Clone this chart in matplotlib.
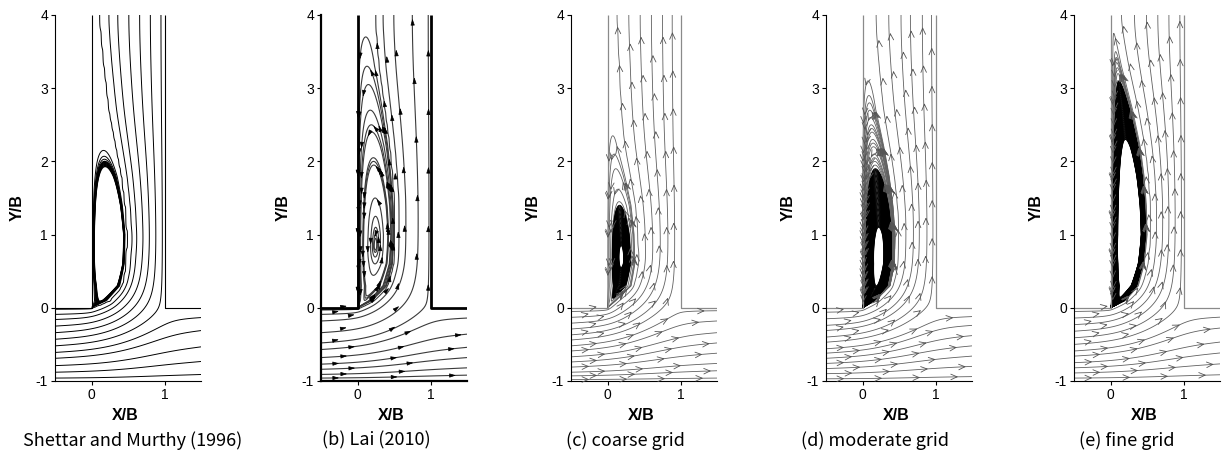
import numpy as np
import matplotlib
matplotlib.use("Agg")
import matplotlib.pyplot as plt

plt.rcParams['font.family'] = ['Liberation Sans', 'DejaVu Sans']
plt.rcParams['axes.unicode_minus'] = False

# ---------------- values ----------------
captions = ['Shettar and Murthy (1996)', '(b) Lai (2010)', '(c) coarse grid',
            '(d) moderate grid', '(e) fine grid']

# share of the inlet flow that leaves through the main-channel outlet
outlet_split = [0.45, 0.5, 0.5, 0.5, 0.47]

# heights (y/B) where the drawn streamlines enter at x/B = -0.5
inlet_a = [-0.02, -0.09, -0.16, -0.25, -0.34, -0.43, -0.52, -0.61, -0.69, -0.79, -0.88, -0.96]
inlet_b = [-0.03, -0.09, -0.18, -0.34, -0.48, -0.57, -0.68, -0.77, -0.84, -0.91, -0.96]
inlet_c = [-0.05, -0.13, -0.21, -0.29, -0.37, -0.44, -0.52, -0.59, -0.67, -0.74, -0.81, -0.88, -0.93, -0.98]
inlet_d = [-0.06, -0.15, -0.24, -0.31, -0.40, -0.47, -0.56, -0.62, -0.69, -0.76, -0.83, -0.90, -0.97]
inlet_e = [-0.05, -0.14, -0.23, -0.32, -0.41, -0.50, -0.59, -0.66, -0.75, -0.82, -0.89, -0.96]

# x/B of the separation bubble / wake edge at these y/B stations
edge_y = [0.0, 0.1, 0.3, 0.6, 1.0, 1.4, 1.8, 2.2, 2.7, 3.3, 4.0]
edge_a = [0.0, 0.25, 0.42, 0.47, 0.48, 0.45, 0.40, 0.32, 0.22, 0.15, 0.08]
edge_b = [0.0, 0.20, 0.40, 0.48, 0.50, 0.49, 0.46, 0.42, 0.35, 0.26, 0.20]
edge_c = [0.0, 0.12, 0.33, 0.38, 0.37, 0.33, 0.25, 0.16, 0.11, 0.08, 0.04]
edge_d = [0.0, 0.18, 0.38, 0.44, 0.45, 0.42, 0.37, 0.30, 0.20, 0.13, 0.07]
edge_e = [0.0, 0.22, 0.40, 0.48, 0.52, 0.51, 0.48, 0.43, 0.33, 0.18, 0.04]

# eddy centre height and vertical reach (below / above) of the recirculation
eddy_yc = [0.80, 0.85, 0.68, 0.70, 0.90]
eddy_down = [0.63, 0.90, 0.75, 1.23, 1.08]
eddy_up = [1.00, 1.44, 0.98, 1.23, 2.00]

# heights of the tops of the single recirculation loops
loops_a = [2.15, 2.07, 2.03]
loops_b = [3.7, 3.3, 3.05, 2.7, 2.5, 2.4, 2.05, 2.0, 1.95, 1.5, 1.25, 1.1, 1.0, 0.95]
loops_c = [2.35, 2.1, 1.9, 1.62, 1.45]
loops_d = [3.1, 2.9, 2.8, 2.7, 2.6, 2.5, 2.45, 2.4, 2.3, 2.25, 2.2, 2.1, 2.05, 2.0, 1.95]
loops_e = [3.75, 3.5, 3.42, 3.35, 3.28, 3.2]
# dense bundle of loops: (lowest top, highest top, count)
dense = [(1.93, 2.0, 6), None, (0.85, 1.4, 50), (1.1, 1.9, 70), (2.3, 3.1, 90)]

inlets = [inlet_a, inlet_b, inlet_c, inlet_d, inlet_e]
edges = [edge_a, edge_b, edge_c, edge_d, edge_e]
loops = [loops_a, loops_b, loops_c, loops_d, loops_e]

# ---------------- styles / layout ----------------
line_color = ['black', '#3a3a3a', '#606060', '#606060', '#606060']
line_width = [0.7, 0.8, 0.6, 0.6, 0.6]
wall_color = ['black', 'black', '#8a8a8a', '#8a8a8a', '#8a8a8a']
wall_width = [0.8, 2.0, 0.9, 0.9, 0.9]
arrow_step = [None, 0.8, 0.52, 0.52, 0.52]
panel_left = [55, 321, 571, 826, 1074]
caption_x = [242, 376, 625, 875, 1127]

W, Hpx = 1228, 461

# ---------------- stream function of the through-flow ----------------
H = 0.025
xs = np.arange(-0.5, 1.5 + H / 2, H)
ys = np.arange(-1.0, 4.0 + H / 2, H)
X, Y = np.meshgrid(xs, ys)
J, I = np.indices(X.shape)
tol = H / 4


def solve_psi(edge, split, n_iter=1200, w=1.9):
    L = np.interp(Y, edge_y, edge)
    main = Y <= tol
    branch = (X >= -tol) & (X <= 1 + tol) & (Y >= -tol)
    inside = main | branch
    psi = np.where(Y < 0, (Y + 1) * (1 - (1 - split) * np.clip(X, 0, 1)),
                   1 - (1 - split) * np.clip(X, 0, 1))
    fixed = ~inside
    psi[fixed] = 0.0

    def setb(m, val):
        fixed[m] = True
        psi[m] = val[m]

    setb(inside & (Y < -1 + tol), np.zeros_like(X))
    setb(main & (X < -0.5 + tol), Y + 1)
    setb(main & (X > 1.5 - tol), split * (Y + 1))
    left = ((np.abs(Y) < tol) & (X <= tol)) | ((np.abs(X) < tol) & (Y >= -tol))
    setb(left, np.ones_like(X))
    right = ((np.abs(Y) < tol) & (X >= 1 - tol)) | ((np.abs(X - 1) < tol) & (Y >= -tol))
    setb(right, np.full_like(X, split))
    setb(branch & (Y > tol) & (X < L), np.ones_like(X))
    top = branch & (Y > 4 - tol)
    fixed[top] = True
    top_cols = (X[-1] > L[-1]) & (X[-1] > tol) & (X[-1] < 1 - tol)

    free = inside & ~fixed
    red = free & ((I + J) % 2 == 0)
    blk = free & ((I + J) % 2 == 1)
    nb = np.zeros_like(psi)
    for _ in range(n_iter):
        for m in (red, blk):
            nb[1:-1, 1:-1] = 0.25 * (psi[:-2, 1:-1] + psi[2:, 1:-1] + psi[1:-1, :-2] + psi[1:-1, 2:])
            psi = np.where(m, psi + w * (nb - psi), psi)
        psi[-1, top_cols] = psi[-2, top_cols]
    psi[~inside] = np.nan
    return psi


# ---------------- recirculation field ----------------
BH = 0.005
bxs = np.arange(0, 0.6 + BH / 2, BH)
bys = np.arange(0, 4.0 + BH / 2, BH)
BX, BY = np.meshgrid(bxs, bys)


def bubble_field(edge, yc, wd, wu):
    Lb = np.maximum(np.interp(BY, edge_y, edge), 1e-3)
    u = BX / Lb
    g = np.exp(-((BY - yc) / np.where(BY < yc, wd, wu)) ** 2)
    return np.where(u < 1, 4 * u * (1 - u) * g, -0.1)


def make_vel(field, x0, y0, h):
    gy, gx = np.gradient(field, h)

    def vel(px, py):
        i = np.clip(np.round((px - x0) / h).astype(int), 0, field.shape[1] - 1)
        j = np.clip(np.round((py - y0) / h).astype(int), 0, field.shape[0] - 1)
        return gy[j, i], -gx[j, i]
    return vel


def segments(cs):
    out = []
    for path in cs.get_paths():
        for poly in path.to_polygons(closed_only=False):
            if len(poly) > 3:
                out.append(np.asarray(poly))
    return out


def draw_arrows(ax, seg, vel, step, start, style):
    d = np.hypot(*np.diff(seg, axis=0).T)
    arc = np.concatenate([[0.0], np.cumsum(d)])
    total = arc[-1]
    if total < 0.25:
        return
    vx, vy = vel(seg[:, 0], seg[:, 1])
    tx, ty = np.gradient(seg[:, 0]), np.gradient(seg[:, 1])
    if np.nansum(vx * tx + vy * ty) < 0:
        seg = seg[::-1]
        arc = total - arc[::-1]
    for a in np.arange(start, total - 0.05, step):
        p0 = (np.interp(a - 0.03, arc, seg[:, 0]), np.interp(a - 0.03, arc, seg[:, 1]))
        p1 = (np.interp(a, arc, seg[:, 0]), np.interp(a, arc, seg[:, 1]))
        ax.annotate('', xy=p1, xytext=p0, arrowprops=style)


fig = plt.figure(figsize=(W / 100, Hpx / 100), dpi=100)

for k in range(5):
    ax = fig.add_axes([panel_left[k] / W, 80 / Hpx, 146 / W, 366 / Hpx])
    psi = solve_psi(edges[k], outlet_split[k])
    lv = np.sort(np.array(inlets[k]) + 1.0)
    cs = ax.contour(X, Y, psi, levels=lv, colors=line_color[k], linewidths=line_width[k])

    s = bubble_field(edges[k], eddy_yc[k], eddy_down[k], eddy_up[k])
    top_to_c = lambda t: np.exp(-((np.asarray(t) - eddy_yc[k]) / eddy_up[k]) ** 2)
    lv_b = np.unique(top_to_c(loops[k]))
    cb = ax.contour(BX, BY, s, levels=lv_b, colors=line_color[k], linewidths=line_width[k])
    if dense[k] is not None:
        lo, hi, n = dense[k]
        lv_d = np.unique(top_to_c(np.linspace(lo, hi, n)))
        ax.contour(BX, BY, s, levels=lv_d, colors='black',
                   linewidths=1.0 if k == 0 else 0.7)

    if arrow_step[k] is not None:
        if k == 1:
            style = dict(arrowstyle='-|>,head_length=0.38,head_width=0.12', color='black',
                         lw=0.5, shrinkA=0, shrinkB=0)
        else:
            style = dict(arrowstyle='->,head_length=0.45,head_width=0.2', color='#555555',
                         lw=0.6, shrinkA=0, shrinkB=0)
        vel = make_vel(psi, xs[0], ys[0], H)
        for n_seg, seg in enumerate(segments(cs)):
            draw_arrows(ax, seg, vel, arrow_step[k], 0.25 + 0.11 * (n_seg % 3), style)
        velb = make_vel(s, 0.0, 0.0, BH)
        for seg in segments(cb):
            draw_arrows(ax, seg, velb, arrow_step[k], 0.3, style)

    # channel walls
    ax.plot([-0.5, 0, 0], [0, 0, 4], color=wall_color[k], lw=wall_width[k], solid_capstyle='butt')
    ax.plot([1, 1, 1.5], [4, 0, 0], color=wall_color[k], lw=wall_width[k], solid_capstyle='butt')

    ax.set_xlim(-0.5, 1.5)
    ax.set_ylim(-1, 4)
    ax.set_xticks([0, 1])
    ax.set_yticks([-1, 0, 1, 2, 3, 4])
    for side in ('top', 'right'):
        ax.spines[side].set_visible(False)
    for side in ('left', 'bottom'):
        ax.spines[side].set_linewidth(1.6 if k == 1 else 0.8)
    ax.tick_params(direction='out', length=3, width=0.8, labelsize=10, pad=2)
    ax.text(-0.26, 0.475, 'Y/B', rotation=90, transform=ax.transAxes, ha='center',
            va='center', fontsize=11.5, fontweight='bold')
    ax.text(0.48, -0.093, 'X/B', transform=ax.transAxes, ha='center', va='center',
            fontsize=11.5, fontweight='bold')

    fig.text(caption_x[k] / W, 0.045, captions[k], ha='right' if k == 0 else 'center',
             va='center', fontsize=13, family=['Noto Sans CJK KR', 'DejaVu Sans'])

fig.savefig('out.png', dpi=100)
